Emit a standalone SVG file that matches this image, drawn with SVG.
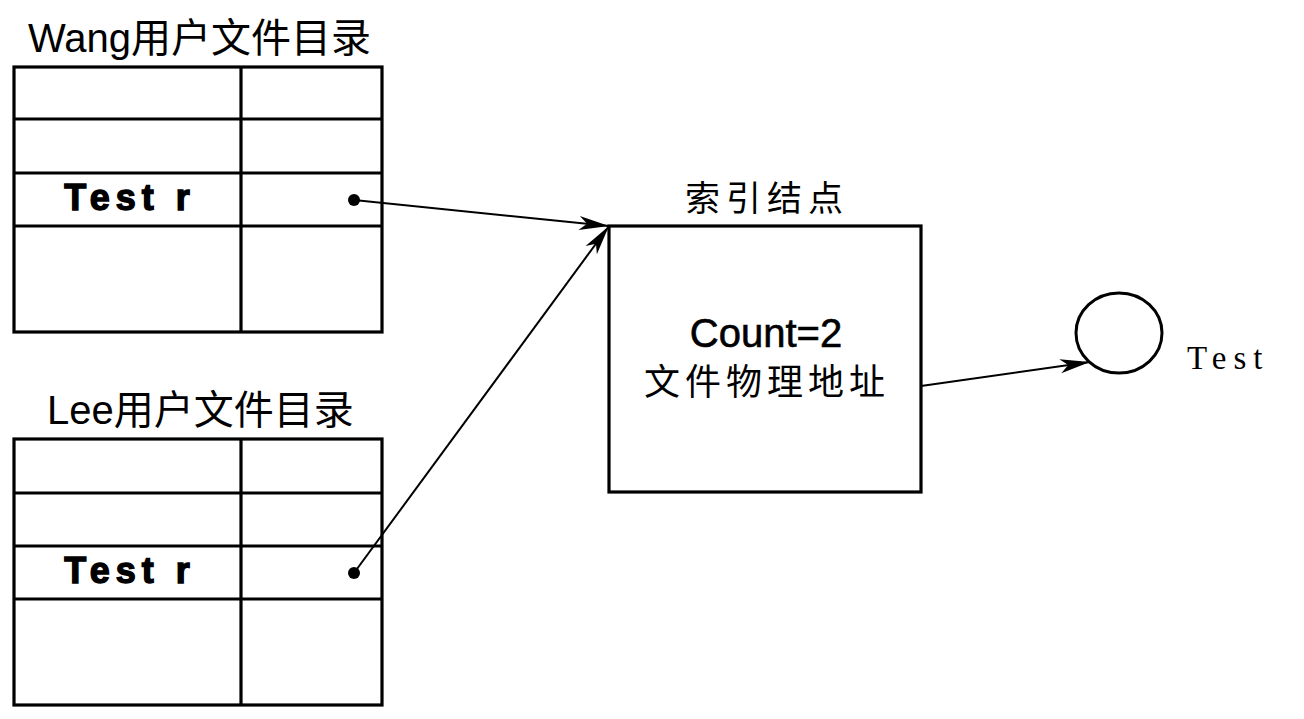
<svg xmlns="http://www.w3.org/2000/svg" width="1304" height="719" viewBox="0 0 1304 719">
<style>
.tbl{fill:none;stroke:#000;stroke-width:3.2}
.ttl{font-family:"Liberation Sans","Noto Sans CJK SC",sans-serif;fill:#000}
.cell{font-family:"Liberation Sans",sans-serif;font-weight:bold;font-size:36px;letter-spacing:6px;fill:#000;stroke:#000;stroke-width:1.4;text-anchor:middle}
.conn{fill:none;stroke:#000;stroke-width:2}
</style>
<defs>
<marker id="ah" markerUnits="userSpaceOnUse" markerWidth="40" markerHeight="20" viewBox="-32 -10 34 20" refX="0" refY="0" orient="auto">
<path d="M0,0 L-30,-7 L-22,0 L-30,7 Z" fill="#000"/>
</marker>
</defs>
<rect width="1304" height="719" fill="#fff"/>
<g id="wang">
<text class="ttl" x="28" y="52" style="font-size:40px">Wang用户文件目录</text>
<rect class="tbl" x="14" y="67" width="368" height="265"/>
<line class="tbl" x1="241" y1="67" x2="241" y2="332"/>
<line class="tbl" x1="14" y1="119" x2="382" y2="119"/>
<line class="tbl" x1="14" y1="173" x2="382" y2="173"/>
<line class="tbl" x1="14" y1="226" x2="382" y2="226"/>
<text class="cell" x="130" y="210">Test r</text>
<circle cx="354" cy="200" r="6" fill="#000"/>
</g>
<g id="lee">
<text class="ttl" x="47" y="424" style="font-size:40px">Lee用户文件目录</text>
<rect class="tbl" x="14" y="439" width="368" height="266"/>
<line class="tbl" x1="241" y1="439" x2="241" y2="705"/>
<line class="tbl" x1="14" y1="493" x2="382" y2="493"/>
<line class="tbl" x1="14" y1="546" x2="382" y2="546"/>
<line class="tbl" x1="14" y1="599" x2="382" y2="599"/>
<text class="cell" x="130" y="583">Test r</text>
<circle cx="354" cy="573" r="6" fill="#000"/>
</g>
<g id="inode">
<text class="ttl" x="767" y="211" text-anchor="middle" style="font-size:35px;letter-spacing:6px">索引结点</text>
<rect class="tbl" x="609" y="226" width="312" height="266"/>
<text class="ttl" x="766" y="347" text-anchor="middle" style="font-size:40px" stroke="#000" stroke-width="0.6">Count=2</text>
<text class="ttl" x="767" y="395" text-anchor="middle" style="font-size:36px;letter-spacing:5px">文件物理地址</text>
</g>
<g id="file">
<ellipse cx="1119" cy="333" rx="43" ry="40" fill="none" stroke="#000" stroke-width="3"/>
<text x="1187" y="369" font-family="'Liberation Serif',serif" font-size="33" letter-spacing="7" fill="#000">Test</text>
</g>
<g id="connectors">
<line class="conn" x1="354" y1="200" x2="609" y2="226" marker-end="url(#ah)"/>
<line class="conn" x1="354" y1="573" x2="609" y2="226" marker-end="url(#ah)"/>
<line class="conn" x1="921" y1="386" x2="1090" y2="362" marker-end="url(#ah)"/>
</g>
</svg>
